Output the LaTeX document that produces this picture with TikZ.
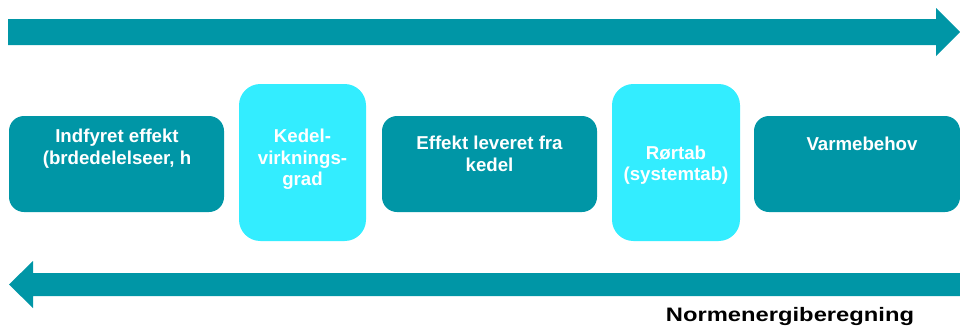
\documentclass[tikz,border=0pt]{standalone}
\usepackage{fontspec}
\setmainfont{Liberation Sans}
\newfontfamily\boxfont{Liberation Sans}
\newfontfamily\labfont{Liberation Sans}[FakeStretch=1.22]
\definecolor{teal1}{HTML}{0096A6}
\definecolor{cyan1}{HTML}{33EDFF}
\begin{document}
\begin{tikzpicture}[x=0.75pt,y=-0.75pt,
  darkbox/.style={fill=teal1,draw=none,rounded corners=11.25pt,minimum height=96*0.75pt,inner sep=0pt},
  lightbox/.style={fill=cyan1,draw=none,rounded corners=16pt,minimum height=157*0.75pt,inner sep=0pt},
  boxtext/.style={text=white,align=center,inner sep=0pt,anchor=north,font=\boxfont\bfseries\fontsize{14}{16}\selectfont},
  bigarrow/.style={fill=teal1,draw=none}]
\useasboundingbox (0,0) rectangle (960,329);
% arrows
\fill[bigarrow] (8,19) -- (936,19) -- (936,8) -- (960,32) -- (936,56) -- (936,45) -- (8,45) -- cycle;
\fill[bigarrow] (961,273) -- (33,273) -- (33,261) -- (9,284.5) -- (33,308) -- (33,296) -- (961,296) -- cycle;
% boxes
\node[darkbox,minimum width=215*0.75pt] (b1) at (116.5,164) {};
\node[lightbox,minimum width=127*0.75pt] (b2) at (302.5,162.5) {};
\node[darkbox,minimum width=215*0.75pt] (b3) at (489.5,164) {};
\node[lightbox,minimum width=128*0.75pt] (b4) at (676,162.5) {};
\node[darkbox,minimum width=206*0.75pt] (b5) at (857,164) {};
% texts
\node[boxtext] (t1) at (117,129) {Indfyret effekt\\(brdedelelseer, h};
\node[boxtext] (t2) at (302.5,129) {Kedel-\\virknings-\\grad};
\node[boxtext] (t3) at (489.5,136) {Effekt leveret fra\\kedel};
\node[boxtext] (t4) at (676,145.5) {Rørtab\\(systemtab)};
\node[boxtext] (t5) at (862,137) {Varmebehov};
\node[anchor=base,inner sep=0pt,font=\labfont\bfseries\fontsize{14.6}{17}\selectfont] (lab) at (790,321.7) {Normenergiberegning};
\end{tikzpicture}
\end{document}
